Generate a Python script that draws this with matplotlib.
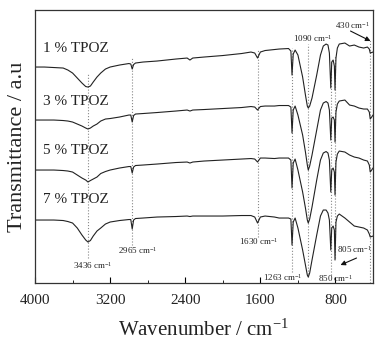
import matplotlib
matplotlib.use("Agg")
import matplotlib.pyplot as plt
from matplotlib.ticker import MultipleLocator

plt.rcParams["font.family"] = ["Liberation Serif", "DejaVu Serif"]
plt.rcParams["mathtext.fontset"] = "custom"
plt.rcParams["mathtext.rm"] = "Liberation Serif"
plt.rcParams["mathtext.it"] = "Liberation Serif:italic"

# FTIR spectra, stacked (a.u.), sampled at the wavenumbers below
wavenumber = [4000, 3900, 3800, 3700, 3650, 3600, 3550, 3500, 3460, 3436,
              3410, 3380, 3340, 3300, 3250, 3200, 3100, 3000, 2980, 2965,
              2950, 2930, 2850, 2700, 2500, 2380, 2350, 2320, 2200, 2000,
              1800, 1700, 1660, 1630, 1600, 1550, 1450, 1400, 1300, 1275,
              1263, 1250, 1230, 1200, 1150, 1120, 1100, 1090, 1075, 1050,
              1000, 960, 930, 900, 880, 865, 850, 840, 825, 812,
              805, 795, 780, 760, 700, 650, 600, 550, 500, 460,
              440, 430, 400]

t_1pct = [216, 216, 215.5, 215, 213, 210, 205, 200, 196.5, 196,
          197, 201, 206, 210, 214, 216, 218, 219.5, 219, 214,
          218.5, 220, 221, 222, 224, 225, 223, 225, 226, 227.5,
          229.5, 231, 230, 225, 231, 232.5, 233.5, 234, 234.5, 232,
          208, 229, 233, 228, 206, 188, 177, 175, 177, 185,
          208, 228, 237, 239, 238, 230, 195, 221, 223, 217,
          193, 225, 235, 239, 240, 237, 238, 236, 235, 236,
          234, 230, 231]

t_3pct = [163, 163, 163, 162.5, 162, 161, 159, 157, 155, 154,
          155, 157, 159, 162, 164, 164.5, 166, 168, 168, 161,
          167.5, 169, 169.5, 170.5, 172, 173, 172, 173, 173.5, 174.5,
          175.5, 176.5, 176, 173, 176.5, 177, 177, 177.5, 177.5, 176,
          150, 173, 177, 168, 148, 131, 118, 113, 117, 128,
          153, 173, 180, 181.5, 180, 173, 143, 165, 166, 163,
          141, 171, 179, 182, 183, 178, 177, 175, 174, 174,
          171, 164, 168]

t_5pct = [113, 113, 113, 112.5, 112, 111, 108, 105, 103, 101,
          102.5, 104, 106, 109.5, 111.5, 113, 115, 116.5, 116.5, 110,
          116, 117.5, 118, 119, 120.5, 121, 120, 121, 122, 123,
          124, 124.5, 124, 121, 125, 125, 124.5, 125, 125, 123,
          95, 120, 124, 113, 91, 75, 63, 60, 64, 76,
          103, 123, 130, 131.5, 130, 123, 91, 113, 115, 111,
          88, 121, 129, 132, 131, 128, 126, 125, 123, 122,
          118, 111, 115]

t_7pct = [63, 63, 63, 62.5, 61.5, 60, 55, 48, 43, 41,
          42.5, 47, 52, 55, 59, 61, 62.5, 63.5, 63.5, 54,
          63, 64.5, 65, 66, 66.5, 67, 66.5, 67, 67, 67,
          67.5, 67.5, 66, 60, 66, 67, 66, 65, 65, 64,
          38, 61, 65, 55, 33, 18, 8, 6, 10, 23,
          48, 67, 73, 73, 70, 63, 33, 55, 57, 53,
          23, 61, 67, 69, 65, 61, 57, 56, 55, 53,
          49, 46, 47]

series = [t_1pct, t_3pct, t_5pct, t_7pct]
series_labels = ["1 % TPOZ", "3 % TPOZ", "5 % TPOZ", "7 % TPOZ"]
series_label_y = [235, 182, 133, 84]

# marker lines: (wavenumber, y from, y to)
band_lines = [(3436, 25, 210), (2965, 38, 225), (1630, 46, 233),
              (1263, 11, 235), (1090, 6, 239), (850, 8, 223),
              (805, 25, 228), (430, 0, 243)]

# band labels: (text wavenumber, text y, label)
band_notes = [(3381, 18, "3436"), (2901, 33, "2965"), (1621, 42, "1630"),
              (1365, 6, "1263"), (800, 5, "850"), (597, 34, "805"),
              (1045, 245, "1090"), (619, 258, "430")]

# arrows: (from wn, from y, to wn, to y)
arrows = [(640, 252, 427, 242), (576, 25, 747, 18)]

fig = plt.figure(figsize=(3.89, 3.46), dpi=100)
ax = fig.add_axes([0.09, 0.182, 0.869, 0.789])

for wn, y0, y1 in band_lines:
    ax.plot([wn, wn], [y0, y1], color="#888888", linestyle=":", linewidth=0.8, zorder=1)

for t in series:
    ax.plot(wavenumber, t, color="#222222", linewidth=0.8, zorder=2)

for lab, y in zip(series_labels, series_label_y):
    ax.text(3915, y, lab, fontsize=11, ha="left", va="center", color="#222222")

for wn, y, lab in band_notes:
    ax.text(wn, y, lab + " cm$^{-1}$", fontsize=6.5, ha="center", va="center",
            color="#222222")

for x0, y0, x1, y1 in arrows:
    ax.annotate("", xy=(x1, y1), xytext=(x0, y0),
                arrowprops=dict(arrowstyle="-|>", color="#111111", lw=0.8,
                                mutation_scale=7, shrinkA=0, shrinkB=0))

ax.set_xlim(4000, 400)
ax.set_ylim(0, 273)
ax.xaxis.set_major_locator(MultipleLocator(800))
ax.xaxis.set_minor_locator(MultipleLocator(400))
ax.set_xticks([4000, 3200, 2400, 1600, 800])
ax.tick_params(axis="x", which="both", direction="in", top=False, pad=8,
               labelsize=11, labelcolor="#222222")
ax.tick_params(axis="x", which="major", length=4)
ax.tick_params(axis="x", which="minor", length=2.5)
ax.set_yticks([])
for sp in ax.spines.values():
    sp.set_color("#333333")
    sp.set_linewidth(0.9)

ax.set_xlabel("Wavenumber / cm$^{-1}$", fontsize=15, labelpad=9, color="#222222")
ax.set_ylabel("Transmittance / a.u", fontsize=16, labelpad=6, color="#222222")

fig.savefig("out.png", dpi=100)
